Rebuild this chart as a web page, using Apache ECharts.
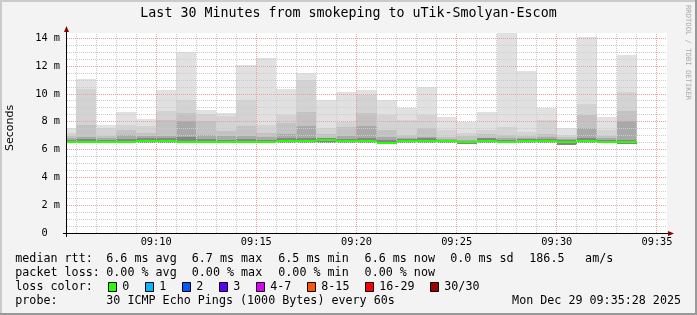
<!DOCTYPE html>
<html><head><meta charset="utf-8">
<script src="https://cdn.jsdelivr.net/npm/echarts@6.0.0/dist/echarts.min.js"></script>
<style>html,body{margin:0;padding:0;background:#f3f3f3}#c{width:697px;height:315px}</style>
</head><body><div id="c"></div>
<script>
// time slots, minutes after 09:00
const slotStart = [5.5,6,7,8,9,10,11,12,13,14,15,16,17,18,19,20,21,22,23,24,25,26,27,28,29,30,31,32,33];
const slotEnd   = [6,7,8,9,10,11,12,13,14,15,16,17,18,19,20,21,22,23,24,25,26,27,28,29,30,31,32,33,34];
// smoke levels (ms)
const smokeMax = [7.55,11.1,7.79,8.68,8.2,10.3,13.04,8.87,8.63,12.1,12.59,10.38,11.5,9.59,10.16,10.3,9.59,8.97,10.48,8.34,7.96,8.68,14.6,11.63,8.97,7.55,14.1,8.34,12.83];
const smokeB2  = [7.2,10.38,7.55,7.74,7.67,8.8,9.59,8.58,8.4,9.59,7.79,8.5,10.98,7.55,7.96,9.95,8.51,8.1,8.51,7.4,7.2,7.43,7.6,7.3,8.1,7.07,9.3,7.43,10.12];
const smokeB3  = [6.95,7.77,6.95,7.43,7.2,8.15,8.63,8.08,7.31,7.67,7.2,7.91,8.68,7.14,7.6,8.63,7.43,7.07,7.55,6.9,6.95,7.12,7.07,6.95,7.14,6.9,8.46,7.0,8.75];
const smokeB4  = [6.8,6.9,6.8,7.07,6.95,6.95,8.03,7.07,6.95,6.95,6.9,7.1,7.67,6.85,6.95,7.67,6.9,6.85,6.9,6.75,6.7,6.85,6.85,6.8,6.9,6.75,7.55,6.85,8.03];
const smokeCore = [6.7,6.75,6.7,6.78,6.8,6.8,6.9,6.75,6.7,6.75,6.7,6.8,6.8,6.82,6.75,6.8,6.68,6.78,6.8,6.72,6.65,6.8,6.7,6.75,6.75,6.7,6.85,6.72,6.7];
const smokeMin = [6.45,6.45,6.45,6.45,6.5,6.5,6.45,6.45,6.45,6.45,6.45,6.45,6.45,6.45,6.45,6.45,6.42,6.45,6.45,6.45,6.42,6.45,6.45,6.45,6.45,6.35,6.45,6.45,6.42];
const medianRtt = [6.55,6.55,6.55,6.55,6.65,6.65,6.55,6.55,6.55,6.55,6.55,6.62,6.6,6.68,6.62,6.63,6.51,6.6,6.65,6.6,6.52,6.6,6.55,6.63,6.63,6.58,6.65,6.56,6.52];
// axis ticks
const xTickValues = [10,15,20,25,30,35];
const xTickLabels = ['09:10','09:15','09:20','09:25','09:30','09:35'];
const xMinorValues = [6,7,8,9,11,12,13,14,16,17,18,19,21,22,23,24,26,27,28,29,31,32,33,34];
const yTickValues = [0,2,4,6,8,10,12,14];
const yTickLabels = ['0  ',' 2 m',' 4 m',' 6 m',' 8 m','10 m','12 m','14 m'];
const yMinorValues = [0.5,1,1.5,2.5,3,3.5,4.5,5,5.5,6.5,7,7.5,8.5,9,9.5,10.5,11,11.5,12.5,13,13.5,14];
// legend
const lossColors = ['#26ff00','#00b8ff','#0059ff','#5e00ff','#dd00ff','#ff5500','#ff0000','#a10000'];
const lossLabels = ['0','1','2','3','4-7','8-15','16-29','30/30'];
const rttStats = ['6.6 ms avg','6.7 ms max','6.5 ms min','6.6 ms now','0.0 ms sd','186.5','am/s'];
const lossStats = ['0.00 % avg','0.00 % max','0.00 % min','0.00 % now'];

const X_MIN = 5.5, X_MAX = 35.5, Y_MAX = 14.39;
const MONO = '"DejaVu Sans Mono"';

const chart = echarts.init(document.getElementById('c'), null, {renderer:'canvas', width:697, height:315});

function bandSeries(hiArr, color, z) {
  return {
    type:'custom', silent:true, z:z, clip:true,
    data: slotStart.map((s,i)=>[s, slotEnd[i], smokeMin[i], hiArr[i]]),
    encode:{x:[0,1], y:[2,3]},
    renderItem(params, api){
      const a = api.coord([api.value(0), Math.min(api.value(3), Y_MAX)]);
      const b = api.coord([api.value(1), api.value(2)]);
      const x0=Math.round(a[0]), x1=Math.round(b[0]), y0=Math.round(a[1]), y1=Math.round(b[1]);
      return {type:'rect', shape:{x:x0,y:y0,width:x1-x0,height:y1-y0}, style:{fill:color}};
    }
  };
}
function gridSeries(vals, vertical, color, z) {
  return {
    type:'custom', silent:true, z:z, clip:false,
    data: vals.map(v=>[v]),
    encode: vertical ? {x:0} : {y:0},
    renderItem(params, api){
      const v = api.value(0);
      let a, b;
      if (vertical) { a = api.coord([v, 0]); b = api.coord([v, Y_MAX]); const x=Math.floor(a[0])+0.5; return {type:'line', shape:{x1:x,y1:Math.round(a[1]),x2:x,y2:Math.round(b[1])}, style:{stroke:color,lineWidth:1,lineDash:[1,1]}}; }
      a = api.coord([X_MIN, v]); b = api.coord([X_MAX, v]); const y=Math.floor(a[1])+0.5;
      return {type:'line', shape:{x1:Math.round(a[0])+1,y1:y,x2:Math.round(b[0]),y2:y}, style:{stroke:color,lineWidth:1,lineDash:[1,1]}};
    }
  };
}
const medianSeries = {
  type:'custom', silent:true, z:10, clip:true,
  data: slotStart.map((s,i)=>[s, slotEnd[i], medianRtt[i]]),
  encode:{x:[0,1], y:2},
  renderItem(params, api){
    const a = api.coord([api.value(0), api.value(2)]);
    const b = api.coord([api.value(1), api.value(2)]);
    const x0=Math.round(a[0]), x1=Math.round(b[0]), y=Math.round(a[1]);
    return {type:'rect', shape:{x:x0,y:y-1,width:x1-x0,height:2}, style:{fill:lossColors[0]}};
  }
};

const graphic = [];
// border
graphic.push({type:'rect', shape:{x:0,y:0,width:697,height:2}, style:{fill:'#cbcbcb'}, silent:true});
graphic.push({type:'rect', shape:{x:0,y:0,width:2,height:315}, style:{fill:'#cbcbcb'}, silent:true});
graphic.push({type:'rect', shape:{x:0,y:313,width:697,height:2}, style:{fill:'#999999'}, silent:true});
graphic.push({type:'rect', shape:{x:695,y:0,width:2,height:315}, style:{fill:'#999999'}, silent:true});
// title
graphic.push({type:'text', x:348.5, y:14, style:{text:'Last 30 Minutes from smokeping to uTik-Smolyan-Escom', font:'13.3px '+MONO, fill:'#000', textAlign:'center', textVerticalAlign:'middle'}, silent:true});
// y axis title
graphic.push({type:'text', x:10.5, y:128, rotation:Math.PI/2, style:{text:'Seconds', font:'11px "DejaVu Sans"', fill:'#000', textAlign:'center', textVerticalAlign:'middle'}, silent:true});
// watermark
graphic.push({type:'text', x:688, y:5, rotation:-Math.PI/2, style:{text:'RRDTOOL / TOBI OETIKER', font:'7.2px '+MONO, fill:'#aaaaaa', textAlign:'left', textVerticalAlign:'middle'}, silent:true});
// axes lines + arrows
graphic.push({type:'line', shape:{x1:63,y1:233.5,x2:671,y2:233.5}, style:{stroke:'#000',lineWidth:1}, silent:true, z:20});
graphic.push({type:'line', shape:{x1:66.5,y1:237,x2:66.5,y2:30}, style:{stroke:'#000',lineWidth:1}, silent:true, z:20});
graphic.push({type:'polygon', shape:{points:[[64,32],[69,32],[66.5,26]]}, style:{fill:'#8b0000'}, silent:true, z:21});
graphic.push({type:'polygon', shape:{points:[[668,231],[668,236],[674,233.5]]}, style:{fill:'#8b0000'}, silent:true, z:21});
// legend
const LF = '11.7px '+MONO;
const rowY = [259, 273, 287, 301];
function txt(t, x, y, align){ graphic.push({type:'text', x:x, y:y, style:{text:t, font:LF, fill:'#000', textAlign:align||'left', textVerticalAlign:'middle'}, silent:true}); }
txt('median rtt:', 15.3, rowY[0]);
const rttX = [106.3, 191.8, 278.3, 364.6, 450.3, 529.3, 585.1];
rttStats.forEach((t,i)=>txt(t, rttX[i], rowY[0]));
txt('packet loss:', 15.3, rowY[1]);
lossStats.forEach((t,i)=>txt(t, rttX[i], rowY[1]));
txt('loss color:', 15.3, rowY[2]);
const boxX = [108, 145, 182, 219, 256, 307, 365, 430];
lossColors.forEach((c,i)=>{
  graphic.push({type:'rect', shape:{x:boxX[i]+0.5,y:282.5,width:8,height:9}, style:{fill:c, stroke:'#000', lineWidth:1}, silent:true});
  txt(lossLabels[i], boxX[i]+14.3, rowY[2]);
});
txt('probe:', 15.3, rowY[3]);
txt('30 ICMP Echo Pings (1000 Bytes) every 60s', 106.3, rowY[3]);
txt('Mon Dec 29 09:35:28 2025', 681, rowY[3], 'right');

chart.setOption({
  animation:false,
  backgroundColor:'#f3f3f3',
  grid:{left:66, right:30, top:33, bottom:82, show:true, backgroundColor:'#ffffff', borderWidth:0},
  xAxis:{type:'value', min:X_MIN, max:X_MAX, axisLine:{show:false}, axisTick:{show:false}, splitLine:{show:false},
    axisLabel:{customValues:xTickValues, formatter:v=>xTickLabels[xTickValues.indexOf(v)], fontFamily:'DejaVu Sans Mono', fontSize:10.3, color:'#000', margin:4}},
  yAxis:{type:'value', min:0, max:Y_MAX, axisLine:{show:false}, axisTick:{show:false}, splitLine:{show:false},
    axisLabel:{customValues:yTickValues, formatter:v=>yTickLabels[yTickValues.indexOf(v)], fontFamily:'DejaVu Sans Mono', fontSize:10.3, color:'#000', margin:6}},
  series:[
    bandSeries(smokeMax, '#e1e1e1', 2),
    bandSeries(smokeB2, '#d3d3d3', 3),
    bandSeries(smokeB3, '#c2c2c2', 4),
    bandSeries(smokeB4, '#a9a9a9', 5),
    bandSeries(smokeCore, '#858585', 5),
    gridSeries(xMinorValues, true, '#cccccc', 6),
    gridSeries(yMinorValues, false, '#cccccc', 6),
    gridSeries(xTickValues, true, '#eba0a0', 7),
    gridSeries(yTickValues.slice(1), false, '#eba0a0', 7),
    medianSeries
  ],
  graphic: graphic
});
</script></body></html>
